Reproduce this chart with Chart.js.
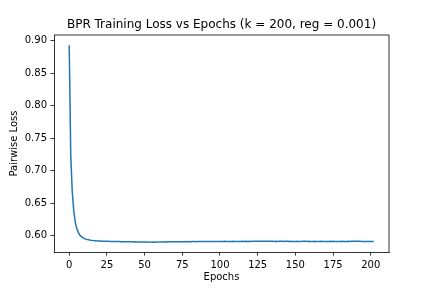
<!DOCTYPE html>
<html>
<head>
<meta charset="utf-8">
<script src="https://cdn.jsdelivr.net/npm/chart.js@4.4.1/dist/chart.umd.min.js"></script>
<style>
  html, body { margin: 0; padding: 0; background: #fff; }
  #wrap { width: 432px; height: 288px; }
</style>
</head>
<body>
<div id="wrap"><canvas id="lossChart" width="432" height="288"></canvas></div>
<script>
// training loss per epoch
var lossValues = [
  0.893, 0.725, 0.668, 0.638, 0.621, 0.611, 0.605, 0.601, 0.5985, 0.5968,
  0.5955, 0.5946, 0.5940, 0.5935, 0.5930, 0.5927, 0.5924, 0.5922, 0.5920, 0.5919,
  0.5918, 0.5917, 0.5915, 0.5914, 0.5913, 0.5912, 0.5912, 0.5911, 0.5911, 0.5910,
  0.5909, 0.5910, 0.5908, 0.5909, 0.5907, 0.5908, 0.5906, 0.5907, 0.5905, 0.5906,
  0.5905, 0.5904, 0.5905, 0.5903, 0.5904, 0.5902, 0.5903, 0.5902, 0.5901, 0.5902,
  0.5901, 0.5902, 0.5900, 0.5901, 0.5900, 0.5899, 0.5901, 0.5899, 0.5900, 0.5900,
  0.5902, 0.5901, 0.5903, 0.5902, 0.5904, 0.5903, 0.5904, 0.5905, 0.5904, 0.5906,
  0.5905, 0.5906, 0.5905, 0.5907, 0.5906, 0.5907, 0.5906, 0.5908, 0.5907, 0.5907,
  0.5908, 0.5907, 0.5909, 0.5908, 0.5907, 0.5909, 0.5908, 0.5909, 0.5908, 0.5910,
  0.5909, 0.5908, 0.5910, 0.5909, 0.5910, 0.5909, 0.5911, 0.5910, 0.5909, 0.5910,
  0.5911, 0.5910, 0.5911, 0.5912, 0.5911, 0.5910, 0.5911, 0.5910, 0.5911, 0.5912,
  0.5911, 0.5910, 0.5911, 0.5910, 0.5911, 0.5912, 0.5911, 0.5912, 0.5911, 0.5912,
  0.5911, 0.5912, 0.5913, 0.5912, 0.5913, 0.5912, 0.5913, 0.5914, 0.5913, 0.5915,
  0.5914, 0.5915, 0.5913, 0.5912, 0.5913, 0.5912, 0.5911, 0.5912, 0.5911, 0.5912,
  0.5913, 0.5912, 0.5911, 0.5912, 0.5913, 0.5912, 0.5911, 0.5912, 0.5911, 0.5910,
  0.5911, 0.5912, 0.5911, 0.5910, 0.5911, 0.5912, 0.5913, 0.5912, 0.5911, 0.5912,
  0.5911, 0.5910, 0.5911, 0.5912, 0.5911, 0.5910, 0.5911, 0.5912, 0.5911, 0.5910,
  0.5911, 0.5910, 0.5911, 0.5912, 0.5911, 0.5912, 0.5911, 0.5910, 0.5911, 0.5910,
  0.5911, 0.5912, 0.5911, 0.5910, 0.5911, 0.5912, 0.5911, 0.5912, 0.5913, 0.5914,
  0.5915, 0.5914, 0.5913, 0.5912, 0.5911, 0.5910, 0.5911, 0.5910, 0.5911, 0.5910,
  0.5911, 0.5910, 0.5911
];
// epoch numbers are just the index of each loss value
var epochs = lossValues.map(function(v, i) { return i; });
var yTicks = [0.60, 0.65, 0.70, 0.75, 0.80, 0.85, 0.90];
var xTicks = [0, 25, 50, 75, 100, 125, 150, 175, 200];

Chart.defaults.font.family = "DejaVu Sans";
Chart.defaults.font.size = 10;
Chart.defaults.color = "#000";

// top and right spines like matplotlib
var frame = {
  id: "frame",
  afterDraw: function(chart) {
    var a = chart.chartArea, ctx = chart.ctx;
    ctx.save();
    ctx.strokeStyle = "#000";
    ctx.lineWidth = 0.8;
    ctx.beginPath();
    ctx.moveTo(a.left, a.top);
    ctx.lineTo(a.right, a.top);
    ctx.lineTo(a.right, a.bottom);
    ctx.stroke();
    ctx.restore();
  }
};

var points = epochs.map(function(e, i) { return {x: e, y: lossValues[i]}; });

new Chart(document.getElementById("lossChart").getContext("2d"), {
  type: "line",
  data: {
    datasets: [{
      data: points,
      borderColor: "#1f77b4",
      borderWidth: 1.5,
      pointRadius: 0,
      fill: false,
      tension: 0
    }]
  },
  options: {
    responsive: false,
    animation: false,
    devicePixelRatio: 1,
    layout: { padding: { left: 0, right: 43, top: 0, bottom: 0 } },
    plugins: {
      legend: { display: false },
      tooltip: { enabled: false },
      title: {
        display: true,
        fullSize: false,
        text: "BPR Training Loss vs Epochs (k = 200, reg = 0.001)",
        font: { size: 12, weight: "normal" },
        color: "#000",
        padding: { top: 18, bottom: 2.6 }
      }
    },
    scales: {
      x: {
        type: "linear",
        min: -10.1,
        max: 212.1,
        afterFit: function(s) { s.height = 36; },
        afterBuildTicks: function(s) { s.ticks = xTicks.map(function(v) { return {value: v}; }); },
        ticks: { padding: 3.5, maxRotation: 0, autoSkip: false, callback: function(v) { return String(v); } },
        grid: { drawOnChartArea: false, drawTicks: true, tickLength: 3.5, color: "#000", lineWidth: 0.8 },
        border: { display: true, color: "#000", width: 0.8 },
        title: { display: true, text: "Epochs", padding: { top: 0, bottom: 5 } }
      },
      y: {
        type: "linear",
        min: 0.5748,
        max: 0.9088,
        afterFit: function(s) { s.width = 54; },
        afterBuildTicks: function(s) { s.ticks = yTicks.map(function(v) { return {value: v}; }); },
        ticks: { padding: 3.5, autoSkip: false, callback: function(v) { return v.toFixed(2); } },
        grid: { drawOnChartArea: false, drawTicks: true, tickLength: 3.5, color: "#000", lineWidth: 0.8 },
        border: { display: true, color: "#000", width: 0.8 },
        title: { display: true, text: "Pairwise Loss", padding: { top: 8, bottom: 0 } }
      }
    }
  },
  plugins: [frame]
});
</script>
</body>
</html>
